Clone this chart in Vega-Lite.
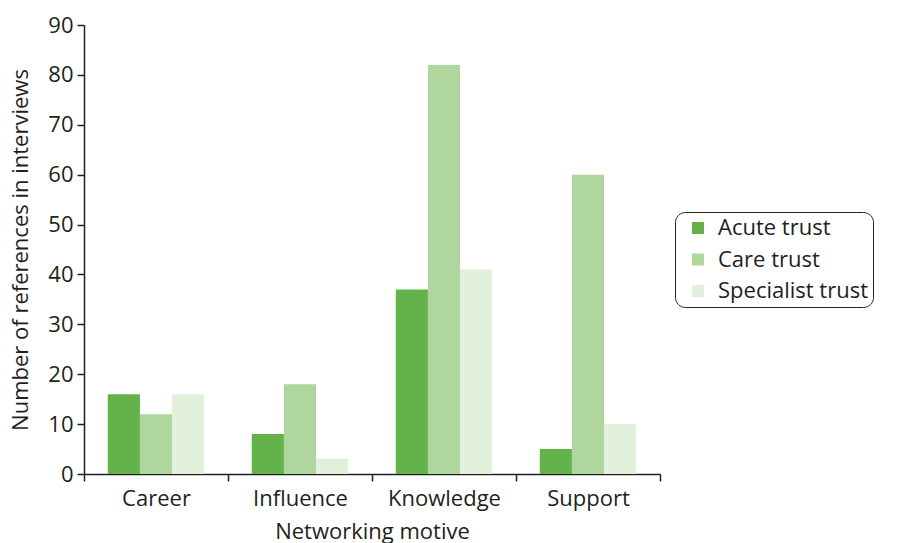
{
  "$schema": "https://vega.github.io/schema/vega-lite/v6.json",
  "autosize": "none",
  "width": 576,
  "height": 449,
  "padding": {"left": 84, "top": 25, "right": 252, "bottom": 69},
  "background": "white",
  "config": {
    "font": "Open Sans",
    "view": {"stroke": null},
    "axis": {"labelFont": "Open Sans", "titleFont": "Open Sans", "labelColor": "#231f20", "titleColor": "#231f20", "domainColor": "#231f20", "tickColor": "#231f20", "labelFontSize": 22, "titleFontSize": 22, "titleFontWeight": "normal", "grid": false, "domainWidth": 1.5, "tickWidth": 1.5}
  },
  "data": {
    "values": [
      {"motive": "Career", "trust": "Acute trust", "value": 16},
      {"motive": "Career", "trust": "Care trust", "value": 12},
      {"motive": "Career", "trust": "Specialist trust", "value": 16},
      {"motive": "Influence", "trust": "Acute trust", "value": 8},
      {"motive": "Influence", "trust": "Care trust", "value": 18},
      {"motive": "Influence", "trust": "Specialist trust", "value": 3},
      {"motive": "Knowledge", "trust": "Acute trust", "value": 37},
      {"motive": "Knowledge", "trust": "Care trust", "value": 82},
      {"motive": "Knowledge", "trust": "Specialist trust", "value": 41},
      {"motive": "Support", "trust": "Acute trust", "value": 5},
      {"motive": "Support", "trust": "Care trust", "value": 60},
      {"motive": "Support", "trust": "Specialist trust", "value": 10}
    ]
  },
  "mark": {"type": "bar"},
  "encoding": {
    "x": {
      "field": "motive", "type": "nominal",
      "scale": {"paddingInner": 0, "paddingOuter": 0},
      "axis": {"title": "Networking motive", "labelAngle": 0, "tickBand": "extent", "tickSize": 7, "labelPadding": 7, "titlePadding": 12}
    },
    "xOffset": {
      "field": "trust", "type": "nominal",
      "scale": {"paddingInner": 0, "paddingOuter": 0.74}
    },
    "y": {
      "field": "value", "type": "quantitative",
      "scale": {"domain": [0, 90]},
      "axis": {"title": "Number of references in interviews", "values": [0,10,20,30,40,50,60,70,80,90], "tickSize": 7, "labelPadding": 4, "titlePadding": 15}
    },
    "color": {
      "field": "trust", "type": "nominal",
      "scale": {"domain": ["Acute trust", "Care trust", "Specialist trust"], "range": ["#63b34a", "#aed69d", "#e0f0d9"]},
      "legend": {
        "title": null, "orient": "none", "legendX": 591, "legendY": 187,
        "symbolType": "square", "symbolSize": 144, "symbolStrokeWidth": 0, "symbolOffset": 7,
        "labelFont": "Open Sans", "labelFontSize": 22, "labelColor": "#231f20",
        "rowPadding": 9.5, "padding": 5, "strokeColor": "#231f20", "cornerRadius": 10,
        "labelOffset": 9, "labelExpr": "datum.label + '\u00a0\u00a0\u00a0\u00a0\u00a0\u00a0\u00a0\u00a0\u00a0\u00a0'", "labelLimit": 400
      }
    }
  }
}
